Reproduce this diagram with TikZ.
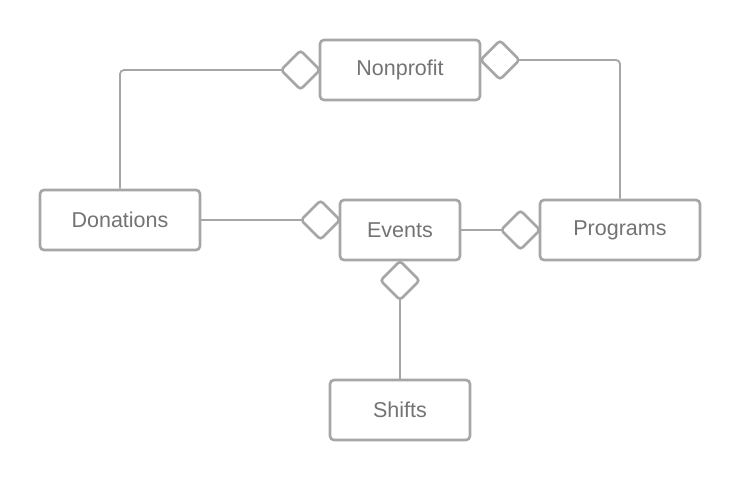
\documentclass[tikz,border=0pt]{standalone}
\usepackage{fontspec}
\setmainfont{Liberation Sans}
\usetikzlibrary{backgrounds}
\definecolor{edgegray}{HTML}{A6A6A6}
\definecolor{textgray}{HTML}{737373}
\begin{document}
\begin{tikzpicture}[x=1pt,y=-1pt,
  entity/.style={draw=edgegray, line width=2.6pt, rounded corners=4pt, fill=white,
    minimum height=60pt, text=textgray, font=\fontsize{21.5}{25}\selectfont, inner sep=0pt},
  agg/.style={draw=edgegray, line width=2.6pt, rounded corners=3pt, fill=white,
    minimum width=27.5pt, minimum height=27.5pt, rotate=45, inner sep=0pt},
  link/.style={draw=edgegray, line width=1.8pt, rounded corners=4pt}]
\useasboundingbox (0,0) rectangle (740,480);
% entities
\node[entity, minimum width=160pt] (np) at (400,70) {Nonprofit};
\node[entity, minimum width=160pt] (don) at (120,220) {Donations};
\node[entity, minimum width=120pt] (ev) at (400,230) {Events};
\node[entity, minimum width=160pt] (prog) at (620,230) {Programs};
\node[entity, minimum width=140pt] (sh) at (400,410) {Shifts};
% diamonds
\node[agg] (dnpl) at (300.5,70) {};
\node[agg] (dnpr) at (500,60) {};
\node[agg] (devl) at (320.5,220) {};
\node[agg] (devr) at (520.5,230) {};
\node[agg] (devb) at (400,280.5) {};
% connectors
\coordinate (c1) at (120,70);
\coordinate (c2) at (620,60);
\begin{scope}[on background layer]
\path[link] (don.north -| c1) -- (c1) -- (dnpl.center);
\path[link] (dnpr.center) -- (c2) -- (prog.north -| c2);
\path[link] (don.east |- devl) -- (devl.center);
\path[link] (ev.east |- devr) -- (devr.center);
\path[link] (devb.center) -- (sh.north);
\end{scope}
\end{tikzpicture}
\end{document}
